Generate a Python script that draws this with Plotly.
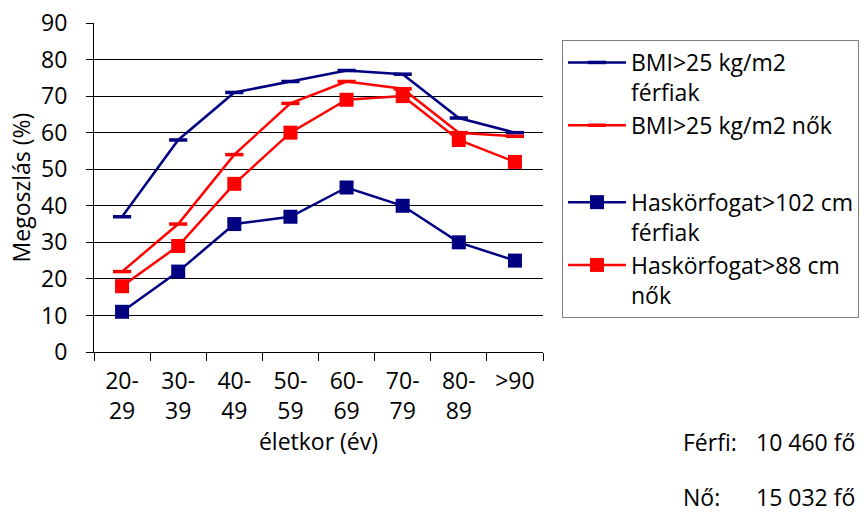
import plotly.graph_objects as go

categories = ["20-<br>29", "30-<br>39", "40-<br>49", "50-<br>59", "60-<br>69", "70-<br>79", "80-<br>89", ">90"]
bmi_men = [37, 58, 71, 74, 77, 76, 64, 60]
bmi_women = [22, 35, 54, 68, 74, 72, 60, 59]
waist_men = [11, 22, 35, 37, 45, 40, 30, 25]
waist_women = [18, 29, 46, 60, 69, 70, 58, 52]
footnote_labels = ["Férfi:", "Nő:"]
footnote_values = ["10 460 fő", "15 032 fő"]

NAVY = "#000080"
RED = "#FF0000"
FONT = "Open Sans"
FS = 23

L, R, T, B = 94, 321, 23, 162
W, H = 864, 514
PW, PH = W - L - R, H - T - B


def px_to_paper(px, py):
    return (px - L) / PW, (H - B - py) / PH


fig = go.Figure()
fig.add_trace(go.Scatter(x=categories, y=bmi_men, mode="lines+markers",
                         name="BMI>25 kg/m2<br>férfiak", legendgroup="bmi",
                         line=dict(color=NAVY, width=2.5),
                         marker=dict(symbol="line-ew", size=13, line=dict(color=NAVY, width=3.5))))
fig.add_trace(go.Scatter(x=categories, y=bmi_women, mode="lines+markers",
                         name="BMI>25 kg/m2 nők", legendgroup="bmi",
                         line=dict(color=RED, width=2.5),
                         marker=dict(symbol="line-ew", size=13, line=dict(color=RED, width=3.5))))
fig.add_trace(go.Scatter(x=categories, y=waist_men, mode="lines+markers",
                         name="Haskörfogat>102 cm<br>férfiak", legendgroup="waist",
                         line=dict(color=NAVY, width=2.5),
                         marker=dict(symbol="square", size=14, color=NAVY)))
fig.add_trace(go.Scatter(x=categories, y=waist_women, mode="lines+markers",
                         name="Haskörfogat>88 cm<br>nők", legendgroup="waist",
                         line=dict(color=RED, width=2.5),
                         marker=dict(symbol="square", size=14, color=RED)))

lx, ly = px_to_paper(562, 40)

ann = []
for label, num, py in zip(footnote_labels, footnote_values, [442, 497]):
    x1, y1 = px_to_paper(681, py)
    x2, _ = px_to_paper(857, py)
    ann.append(dict(text=label, x=x1, y=y1, xref="paper", yref="paper", xanchor="left",
                    yanchor="middle", showarrow=False, font=dict(size=FS)))
    ann.append(dict(text=num, x=x2, y=y1, xref="paper", yref="paper", xanchor="right",
                    yanchor="middle", showarrow=False, font=dict(size=FS)))

fig.update_layout(
    width=W, height=H,
    margin=dict(l=L, r=R, t=T, b=B, autoexpand=False),
    paper_bgcolor="white", plot_bgcolor="white",
    font=dict(family=FONT, size=FS, color="black"),
    showlegend=True,
    legend=dict(x=lx, y=ly, xanchor="left", yanchor="top",
                bordercolor="#808080", borderwidth=1, bgcolor="white",
                font=dict(family=FONT, size=FS), traceorder="grouped",
                tracegroupgap=44, valign="top", itemwidth=58),
    xaxis=dict(type="category", range=[-0.5, 7.5], showline=True, linecolor="black",
               linewidth=1, ticks="outside", tickson="boundaries", ticklen=8,
               tickcolor="black", showgrid=False, ticklabelstandoff=8,
               title=dict(text="életkor (év)", font=dict(size=FS), standoff=2),
               tickfont=dict(size=FS)),
    yaxis=dict(range=[0, 90], dtick=10, showline=True, linecolor="black", linewidth=1,
               ticks="outside", ticklen=7, tickcolor="black", ticklabelstandoff=14,
               showgrid=True, gridcolor="black", gridwidth=1,
               title=dict(text="Megoszlás (%)", font=dict(size=FS), standoff=4),
               tickfont=dict(size=FS), zeroline=False),
    annotations=ann,
)

fig.write_html("out.html")
